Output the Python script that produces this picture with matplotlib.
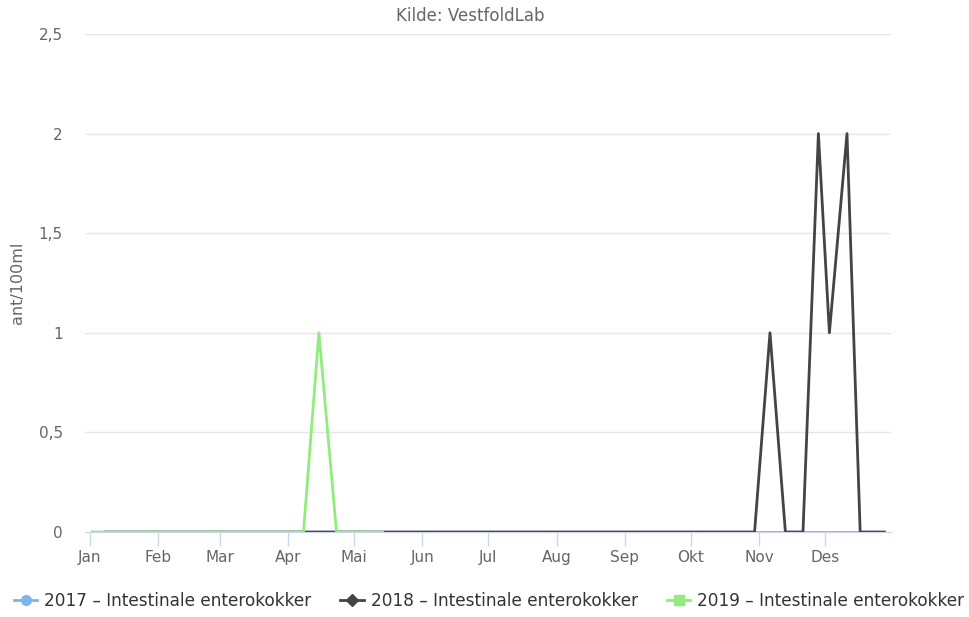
import matplotlib
matplotlib.use("Agg")
import matplotlib.pyplot as plt
import pandas as pd

# Målinger (dato som måned-dag, alle år vist på felles tidsakse)
dates_2017 = ["10-30", "11-06", "11-13", "11-20", "11-27", "12-04", "12-11", "12-18"]
vals_2017 = [0, 0, 0, 0, 0, 0, 0, 0]

dates_2018 = ["01-08", "02-05", "03-05", "04-09", "05-14", "06-11", "07-09", "08-13",
              "09-10", "10-08", "10-30", "11-06", "11-13", "11-21", "11-28", "12-03",
              "12-11", "12-17", "12-28"]
vals_2018 = [0, 0, 0, 0, 0, 0, 0, 0, 0, 0, 0, 1, 0, 0, 2, 1, 2, 0, 0]

dates_2019 = ["01-02", "02-05", "03-05", "04-01", "04-08", "04-15", "04-23", "04-29",
              "05-06", "05-14"]
vals_2019 = [0, 0, 0, 0, 0, 1, 0, 0, 0, 0]

months = ["Jan", "Feb", "Mar", "Apr", "Mai", "Jun", "Jul", "Aug", "Sep", "Okt", "Nov", "Des"]
y_ticks = [0, 0.5, 1, 1.5, 2, 2.5]
y_labels = ["0", "0,5", "1", "1,5", "2", "2,5"]

series = [
    ("2017 – Intestinale enterokokker", dates_2017, vals_2017, "#7cb5ec", "o"),
    ("2018 – Intestinale enterokokker", dates_2018, vals_2018, "#434348", "D"),
    ("2019 – Intestinale enterokokker", dates_2019, vals_2019, "#90ed7d", "s"),
]


def to_date(md):
    return pd.to_datetime(["2018-" + d for d in md])


fig = plt.figure(figsize=(9.69, 6.17), dpi=100)
ax = fig.add_axes([85 / 969, 85 / 617, 806 / 969, 498 / 617])

for label, d, v, color, marker in series:
    ax.plot(to_date(d), v, color=color, lw=2, label=label)

ax.set_ylim(0, 2.5)
ax.set_yticks(y_ticks)
ax.set_yticklabels(y_labels)
ax.set_xlim(pd.Timestamp("2018-01-01") - pd.Timedelta(days=2.3),
            pd.Timestamp("2018-12-31"))
ax.set_xticks(pd.date_range("2018-01-01", periods=12, freq="MS"))
ax.set_xticklabels(months)

ax.grid(axis="y", color="#e6e6e6", lw=1)
ax.set_axisbelow(True)
for s in ["left", "right", "top"]:
    ax.spines[s].set_visible(False)
ax.spines["bottom"].set_color("#ccd6eb")
ax.tick_params(axis="x", colors="#ccd6eb", length=10, width=1, labelcolor="#666666",
               labelsize=11, pad=3)
ax.tick_params(axis="y", length=0, labelcolor="#666666", labelsize=11, pad=16)

ax.set_ylabel("ant/100ml", color="#666666", fontsize=11.5, labelpad=10)
fig.text(470 / 969, 1 - 16 / 617, "Kilde: VestfoldLab", ha="center", va="center",
         color="#666666", fontsize=12)

leg_handles = []
for label, d, v, color, marker in series:
    h, = ax.plot([], [], color=color, lw=2, marker=marker,
                 markersize=7 if marker != "D" else 6)
    leg_handles.append(h)
fig.legend(leg_handles, [s[0] for s in series], loc="center", ncol=3,
           bbox_to_anchor=(489 / 969, 1 - 601 / 617), frameon=False,
           fontsize=12.2, handlelength=1.4, handletextpad=0.4, columnspacing=1.7,
           labelcolor="#333333")

fig.savefig("out.png", dpi=100)
